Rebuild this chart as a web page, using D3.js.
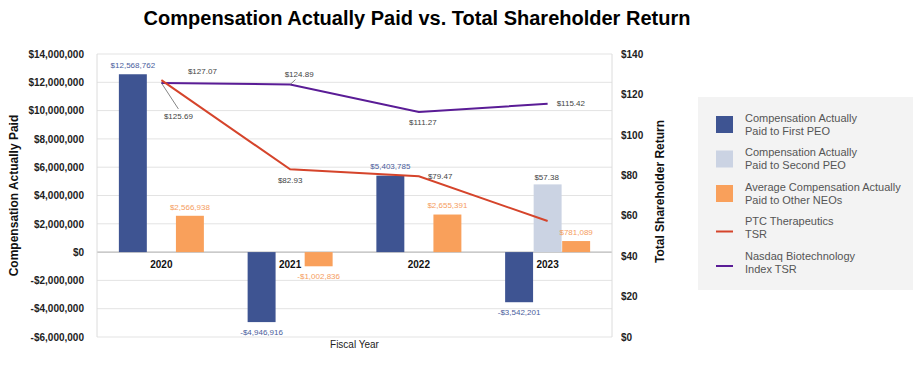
<!DOCTYPE html>
<html>
<head>
<meta charset="utf-8">
<script src="https://cdn.jsdelivr.net/npm/d3@7"></script>
<style>
  body { margin: 0; background: #fff; }
  text { font-family: "Liberation Sans", Arial, sans-serif; }
</style>
</head>
<body>
<div id="chart"></div>
<script>
// data
const years = ["2020", "2021", "2022", "2023"];
const barSeries = ["First PEO", "Second PEO", "Other NEOs"];
const firstPeo = [12568762, -4946916, 5403785, -3542201];
const secondPeo = [null, null, null, 4785000];
const otherNeos = [2566938, -1002836, 2655391, 781089];
const ptcTsr = [127.07, 82.93, 79.47, 57.38];
const nasdaqTsr = [125.69, 124.89, 111.27, 115.42];
const leftTicks = [-6e6, -4e6, -2e6, 0, 2e6, 4e6, 6e6, 8e6, 10e6, 12e6, 14e6];
const rightTicks = [0, 20, 40, 60, 80, 100, 120, 140];
const legendLabels = [
    ["Compensation Actually", "Paid to First PEO"],
    ["Compensation Actually", "Paid to Second PEO"],
    ["Average Compensation Actually", "Paid to Other NEOs"],
    ["PTC Therapeutics", "TSR"],
    ["Nasdaq Biotechnology", "Index TSR"]
];

const colors = {
    first: "#3e5492",
    second: "#cbd3e3",
    other: "#f9a05b",
    ptc: "#d5442b",
    nasdaq: "#5a1c96",
    firstLabel: "#4a5d9c",
    otherLabel: "#f59d5e"
};

const width = 919, height = 368;
const m = { left: 97, right: 612, top: 54, bottom: 337 };

const svg = d3.select("#chart").append("svg")
    .attr("width", width)
    .attr("height", height);

const x = d3.scaleBand().domain(years).range([m.left, m.right]);
const groupW = 85;
const xInner = d3.scaleBand().domain(barSeries).range([0, groupW]).paddingInner(0.02);
const yL = d3.scaleLinear().domain([-6e6, 14e6]).range([m.bottom, m.top]);
const yR = d3.scaleLinear().domain([0, 140]).range([m.bottom, m.top]);

const money = d3.format("$,.0f");
const fmtM = v => (v < 0 ? "-" : "") + money(Math.abs(v));
const fmtT = v => "$" + d3.format(".2f")(v);

// gridlines
svg.append("g")
    .selectAll("line")
    .data(leftTicks)
    .enter().append("line")
    .attr("x1", m.left).attr("x2", m.right)
    .attr("y1", d => yL(d)).attr("y2", d => yL(d))
    .style("stroke", d => d === 0 ? "#a6a6a6" : "#e3e3e3")
    .style("stroke-width", 1);

// side borders
[m.left, m.right].forEach(px => {
    svg.append("line")
        .attr("x1", px).attr("x2", px)
        .attr("y1", m.top).attr("y2", m.bottom)
        .style("stroke", "#dcdcdc");
});

// left axis
const axL = svg.append("g")
    .attr("transform", `translate(${m.left - 10},0)`)
    .call(d3.axisLeft(yL).tickValues(leftTicks).tickFormat(fmtM).tickSize(0));
axL.select(".domain").remove();
axL.selectAll("text")
    .style("font-family", "'Liberation Sans', Arial, sans-serif")
    .style("font-size", "10px")
    .style("font-weight", "bold")
    .style("fill", "#222");

// right axis
const axR = svg.append("g")
    .attr("transform", `translate(${m.right + 9},0)`)
    .call(d3.axisRight(yR).tickValues(rightTicks).tickFormat(d => "$" + d).tickSize(0));
axR.select(".domain").remove();
axR.selectAll("text")
    .attr("x", 0)
    .style("font-family", "'Liberation Sans', Arial, sans-serif")
    .style("font-size", "10px")
    .style("font-weight", "bold")
    .style("fill", "#222");

// bars
const barData = [];
years.forEach((yr, i) => {
    barData.push({ year: yr, key: "First PEO", v: firstPeo[i], fill: colors.first, label: colors.firstLabel });
    barData.push({ year: yr, key: "Second PEO", v: secondPeo[i], fill: colors.second, label: null });
    barData.push({ year: yr, key: "Other NEOs", v: otherNeos[i], fill: colors.other, label: colors.otherLabel });
});
const bars = barData.filter(d => d.v != null);
const barX = d => x(d.year) + (x.bandwidth() - groupW) / 2 + xInner(d.key);

svg.append("g")
    .selectAll("rect")
    .data(bars)
    .enter().append("rect")
    .attr("x", barX)
    .attr("width", xInner.bandwidth())
    .attr("y", d => yL(Math.max(0, d.v)))
    .attr("height", d => Math.abs(yL(d.v) - yL(0)))
    .style("fill", d => d.fill);

svg.append("g")
    .selectAll("text")
    .data(bars.filter(d => d.label))
    .enter().append("text")
    .attr("x", d => barX(d) + xInner.bandwidth() / 2)
    .attr("y", d => d.v >= 0 ? yL(d.v) - 9 : yL(d.v) + 10)
    .attr("dy", "0.35em")
    .attr("text-anchor", "middle")
    .style("font-size", "8px")
    .style("fill", d => d.label)
    .text(d => fmtM(d.v));

// category labels on the zero line
svg.append("g")
    .selectAll("text")
    .data(years)
    .enter().append("text")
    .attr("x", d => x(d) + x.bandwidth() / 2)
    .attr("y", yL(0) + 12)
    .attr("dy", "0.35em")
    .attr("text-anchor", "middle")
    .style("font-size", "10px")
    .style("font-weight", "bold")
    .style("fill", "#111")
    .text(d => d);

// lines
const cx = d => x(d) + x.bandwidth() / 2;
const line = d3.line().x(d => cx(d.year)).y(d => yR(d.v));
const ptcPts = years.map((yr, i) => ({ year: yr, v: ptcTsr[i] }));
const nasPts = years.map((yr, i) => ({ year: yr, v: nasdaqTsr[i] }));

svg.append("path").datum(nasPts)
    .attr("d", line)
    .style("fill", "none").style("stroke", colors.nasdaq).style("stroke-width", 2);
svg.append("path").datum(ptcPts)
    .attr("d", line)
    .style("fill", "none").style("stroke", colors.ptc).style("stroke-width", 2);

// line labels: offsets from each point [dx, dy, anchor, leader]
const ptcPlace = [[41, -9, "middle"], [0, 11, "middle"], [9, 0, "start"], [-1, -44, "middle"]];
const nasPlace = [[17, 33, "middle", true], [9, -10, "middle", true], [4, 10, "middle"], [9, 0, "start"]];

function lineLabels(pts, place) {
    const g = svg.append("g");
    pts.forEach((p, i) => {
        const [dx, dy, anchor, leader] = place[i];
        const px = cx(p.year), py = yR(p.v);
        if (leader) {
            g.append("line")
                .attr("x1", px).attr("y1", py)
                .attr("x2", px + dx * (dy > 0 ? 1 : 0.6)).attr("y2", py + (dy > 0 ? dy - 7 : dy + 5))
                .style("stroke", "#666").style("stroke-width", 0.8);
        }
        g.append("text")
            .attr("x", px + dx)
            .attr("y", py + dy)
            .attr("dy", "0.35em")
            .attr("text-anchor", anchor)
            .style("font-size", "8px")
            .style("fill", "#444")
            .text(fmtT(p.v));
    });
}
lineLabels(ptcPts, ptcPlace);
lineLabels(nasPts, nasPlace);

// titles
svg.append("text")
    .attr("x", 417).attr("y", 18)
    .attr("dy", "0.35em")
    .attr("text-anchor", "middle")
    .style("font-size", "20px")
    .style("font-weight", "bold")
    .style("fill", "#000")
    .text("Compensation Actually Paid vs. Total Shareholder Return");

svg.append("text")
    .attr("transform", `translate(14,${(m.top + m.bottom) / 2}) rotate(-90)`)
    .attr("dy", "0.35em")
    .attr("text-anchor", "middle")
    .style("font-size", "12px")
    .style("font-weight", "bold")
    .style("fill", "#111")
    .text("Compensation Actually Paid");

svg.append("text")
    .attr("transform", `translate(660,${(m.top + m.bottom) / 2 - 4}) rotate(-90)`)
    .attr("dy", "0.35em")
    .attr("text-anchor", "middle")
    .style("font-size", "12px")
    .style("font-weight", "bold")
    .style("fill", "#111")
    .text("Total Shareholder Return");

svg.append("text")
    .attr("x", (m.left + m.right) / 2).attr("y", 344)
    .attr("dy", "0.35em")
    .attr("text-anchor", "middle")
    .style("font-size", "10px")
    .style("fill", "#222")
    .text("Fiscal Year");

// legend
const lg = svg.append("g");
lg.append("rect")
    .attr("x", 698).attr("y", 97).attr("width", 215).attr("height", 193)
    .style("fill", "#f3f3f3");
const legendKinds = [
    { type: "rect", color: colors.first },
    { type: "rect", color: colors.second },
    { type: "rect", color: colors.other },
    { type: "line", color: colors.ptc },
    { type: "line", color: colors.nasdaq }
];
legendLabels.forEach((lines, i) => {
    const yTop = 118 + i * 34.5;
    const k = legendKinds[i];
    if (k.type === "rect") {
        lg.append("rect")
            .attr("x", 716).attr("y", yTop - 2).attr("width", 17).attr("height", 17)
            .style("fill", k.color);
    } else {
        lg.append("line")
            .attr("x1", 716).attr("x2", 733)
            .attr("y1", yTop + 10).attr("y2", yTop + 10)
            .style("stroke", k.color).style("stroke-width", 2);
    }
    lines.forEach((t, j) => {
        lg.append("text")
            .attr("x", 745).attr("y", yTop + j * 13)
            .attr("dy", "0.35em")
            .style("font-size", "11px")
            .style("fill", "#555")
            .text(t);
    });
});
</script>
</body>
</html>
